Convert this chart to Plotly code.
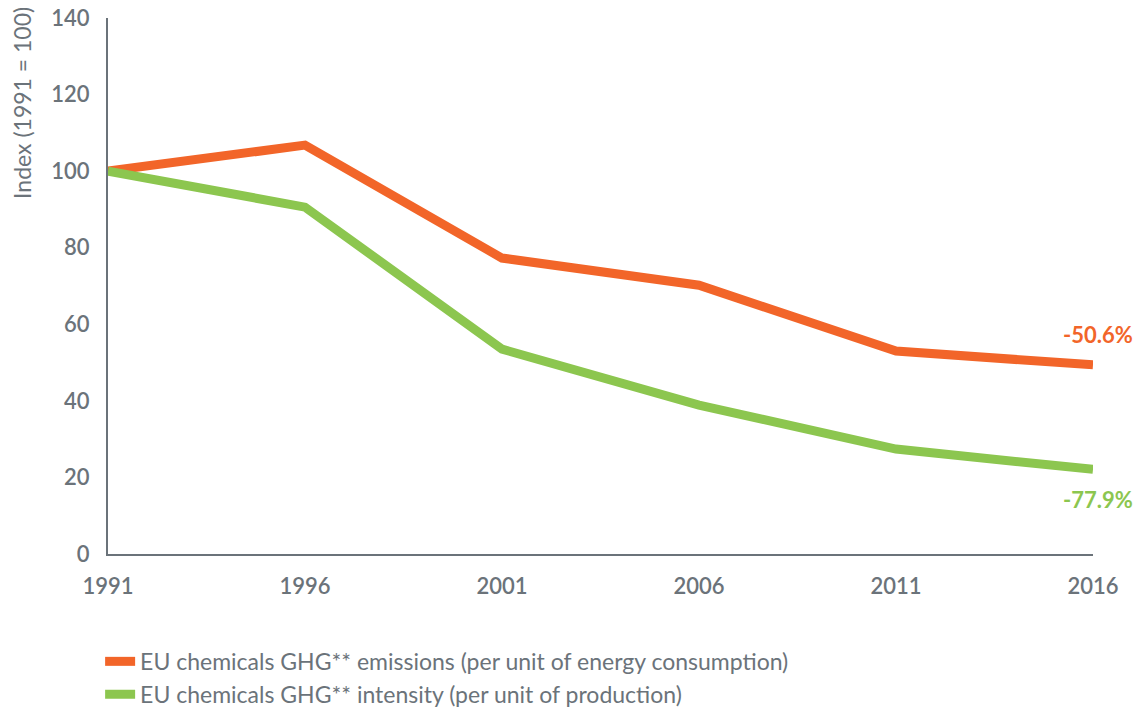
import plotly.graph_objects as go

years = [1991, 1996, 2001, 2006, 2011, 2016]
emissions = [100, 106.8, 77.3, 70.2, 53.0, 49.4]
intensity = [100, 90.6, 53.5, 38.9, 27.4, 22.1]
emissions_label = "-50.6%"
intensity_label = "-77.9%"
names = [
    "EU chemicals GHG** emissions (per unit of energy consumption)",
    "EU chemicals GHG** intensity (per unit of production)",
]
y_ticks = [0, 20, 40, 60, 80, 100, 120, 140]
y_title = "Index (1991 = 100)"

ORANGE = "#F26529"
GREEN = "#8CC64F"
GREY = "#6B737A"
FONT = "Lato"

fig = go.Figure()
fig.add_trace(go.Scatter(x=years, y=emissions, mode="lines", name=names[0],
                         line=dict(color=ORANGE, width=9)))
fig.add_trace(go.Scatter(x=years, y=intensity, mode="lines", name=names[1],
                         line=dict(color=GREEN, width=9)))

# end-of-line change labels
fig.add_annotation(x=years[-1], y=emissions[-1], text=f"<b>{emissions_label}</b>",
                   showarrow=False, xanchor="right", yanchor="middle",
                   xshift=42, yshift=30, font=dict(family=FONT, size=22, color=ORANGE))
fig.add_annotation(x=years[-1], y=intensity[-1], text=f"<b>{intensity_label}</b>",
                   showarrow=False, xanchor="right", yanchor="middle",
                   xshift=42, yshift=-30, font=dict(family=FONT, size=22, color=GREEN))

# y-axis title, set against the top of the axis
fig.add_annotation(x=-0.088, y=1.025, xref="paper", yref="paper", text=y_title,
                   textangle=-90, showarrow=False, xanchor="center", yanchor="top",
                   font=dict(family=FONT, size=23, color=GREY))

tick_font = dict(family=FONT, size=22, color=GREY, weight=600)

fig.update_layout(
    width=1136, height=711,
    margin=dict(l=108, r=43, t=18, b=157, autoexpand=False),
    plot_bgcolor="white", paper_bgcolor="white",
    font=dict(family=FONT, size=22, color=GREY),
    showlegend=True,
    legend=dict(x=-0.008, y=0.1, xref="paper", yref="container",
                xanchor="left", yanchor="top",
                orientation="v", itemwidth=30, tracegroupgap=0,
                font=dict(family=FONT, size=23, color=GREY)),
    xaxis=dict(range=[1991, 2016], tickvals=years, ticktext=[str(y) for y in years],
               showgrid=False, zeroline=False, showline=True, linecolor=GREY,
               linewidth=2, ticks="", automargin=False, ticklabelstandoff=12,
               tickfont=tick_font),
    yaxis=dict(range=[0, 140], tickvals=y_ticks, showgrid=False, zeroline=False,
               showline=True, linecolor=GREY, linewidth=2, ticks="",
               automargin=False, ticklabelstandoff=12, tickfont=tick_font),
)

fig.write_html("out.html")
